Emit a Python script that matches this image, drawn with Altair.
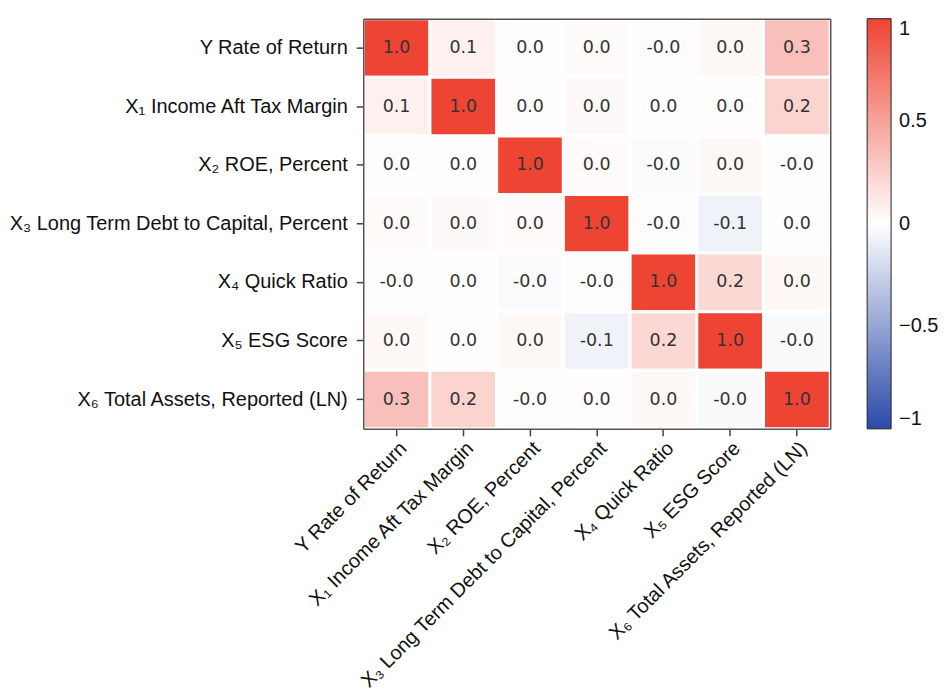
import altair as alt
import pandas as pd

labels = [
    "Y Rate of Return",
    "X\u2081 Income Aft Tax Margin",
    "X\u2082 ROE, Percent",
    "X\u2083 Long Term Debt to Capital, Percent",
    "X\u2084 Quick Ratio",
    "X\u2085 ESG Score",
    "X\u2086 Total Assets, Reported (LN)",
]

row_y  = [1.00, 0.08, 0.01, 0.02, -0.01, 0.04, 0.34]
row_x1 = [0.08, 1.00, 0.01, 0.03, 0.01, 0.01, 0.23]
row_x2 = [0.01, 0.01, 1.00, 0.02, -0.02, 0.04, -0.01]
row_x3 = [0.02, 0.03, 0.02, 1.00, -0.01, -0.07, 0.01]
row_x4 = [-0.01, 0.01, -0.02, -0.01, 1.00, 0.21, 0.04]
row_x5 = [0.04, 0.01, 0.04, -0.07, 0.21, 1.00, -0.03]
row_x6 = [0.34, 0.23, -0.01, 0.01, 0.04, -0.03, 1.00]

matrix = [row_y, row_x1, row_x2, row_x3, row_x4, row_x5, row_x6]

records = []
for i, rl in enumerate(labels):
    for j, cl in enumerate(labels):
        v = matrix[i][j]
        records.append({"row": rl, "col": cl, "value": v, "text": f"{v:.1f}"})
df = pd.DataFrame(records)

color_scale = alt.Scale(domain=[-1, 0, 1], range=["#2a4aa8", "#ffffff", "#ee4433"], interpolate="rgb")

FS = 20
FRAME = "#555555"

rects = alt.Chart(df).mark_rect(stroke="white", strokeWidth=3).encode(
    x=alt.X("col:N", sort=labels, title=None,
            axis=alt.Axis(labelAngle=315, labelFontSize=FS, labelFont="Liberation Sans",
                          labelColor="#111", tickSize=7, tickColor="#444", tickWidth=1.5,
                          domain=True, domainColor=FRAME, domainWidth=1.5, zindex=1,
                          labelPadding=2, labelLimit=500)),
    y=alt.Y("row:N", sort=labels, title=None,
            axis=alt.Axis(labelFontSize=FS, labelFont="Liberation Sans", labelColor="#111",
                          tickSize=7, tickColor="#444", tickWidth=1.5,
                          domain=True, domainColor=FRAME, domainWidth=1.5, zindex=1,
                          labelPadding=9, labelLimit=500)),
    color=alt.Color("value:Q", scale=color_scale,
                    legend=alt.Legend(title=None, orient="right", offset=37,
                                      gradientLength=411, gradientThickness=24,
                                      gradientStrokeColor="#222", gradientStrokeWidth=1,
                                      values=[-1, -0.5, 0, 0.5, 1], format="~g",
                                      labelFontSize=FS, labelFont="Liberation Sans",
                                      labelColor="#111", labelOffset=8)),
)

texts = alt.Chart(df).mark_text(font="DejaVu Sans", fontSize=17.5, color="#333").encode(
    x=alt.X("col:N", sort=labels, title=None,
            axis=alt.Axis(orient="top", labels=False, ticks=False, domain=True,
                          domainColor=FRAME, domainWidth=1.5, zindex=1)),
    y=alt.Y("row:N", sort=labels, title=None,
            axis=alt.Axis(orient="right", labels=False, ticks=False, domain=True,
                          domainColor=FRAME, domainWidth=1.5, zindex=1)),
    text="text:N",
)

chart = (rects + texts).resolve_axis(x="independent", y="independent").properties(
    width=468, height=411,
    padding={"top": 8, "bottom": 0, "left": 0, "right": 0},
).configure_view(stroke=None)

chart.save("out.html", embed_options={"renderer": "svg", "actions": False})
